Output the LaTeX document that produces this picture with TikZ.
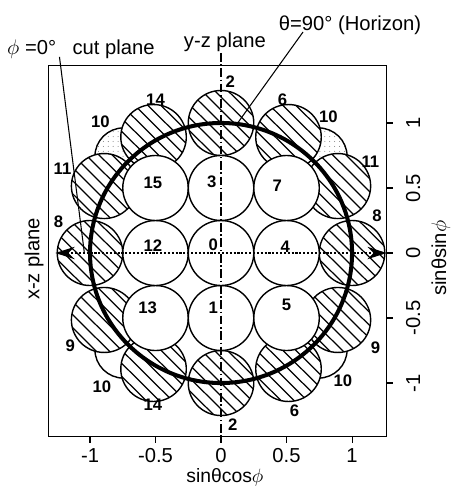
\documentclass[tikz,border=0pt]{standalone}
\usepackage{fontspec}
\setmainfont{Liberation Sans}
\usetikzlibrary{arrows.meta,patterns.meta}

\tikzset{
  ring/.style={line width=.8pt},
  hatch/.style={line width=.7pt},
  num/.style={font=\fontsize{9.5}{10}\selectfont\bfseries, inner sep=0pt},
  lab/.style={font=\fontsize{11.5}{13}\selectfont, inner sep=0pt, anchor=base},
}

\begin{document}
\begin{tikzpicture}[x=2.62cm, y=2.6cm, >={Stealth[length=11pt,width=7pt]}]
\useasboundingbox (-1.687,-1.792) rectangle (1.748,1.946);
% hidden cones (10)
\foreach \a in {45,135}
  \draw[ring, pattern={Dots[distance=2.8pt,radius=.3pt]}, pattern color=gray] (\a:1.05) circle (.22);
\foreach \a in {-45,-135}
  \draw[ring] (\a:1.05) circle (.22);
% outer ring, hatched
\foreach \a/\r in {90/1,60/1.03,30/1.03,0/1,-30/1.03,-60/1.03,-90/1,-120/1.03,-150/1.03,180/1,150/1.03,120/1.03}{
  \begin{scope}[shift={(\a:\r)}]
    \fill[white] (0,0) circle (.25);
    \begin{scope}
      \clip (0,0) circle (.25);
      \foreach \k in {-4,...,4} \draw[hatch] (\k*.1-.4,.4) -- (\k*.1+.4,-.4);
    \end{scope}
    \draw[ring] (0,0) circle (.25);
  \end{scope}}
% inner 3x3
\foreach \x in {-.5,0,.5}
  \foreach \y in {-.5,0,.5}
    \filldraw[ring, fill=white] (\x,\y) circle (.25);
% horizon
\draw[line width=2.3pt] (0,0) circle (1);
% cut planes
\coordinate (xzl) at (-1.265,0);
\coordinate (xzr) at (1.265,0);
\draw[<->, densely dotted, line width=1.2pt] (xzl) -- (xzr);
\coordinate (yzt) at (0,1.54);
\coordinate (yzb) at (0,-1.413);
\draw[line width=.6pt, dash pattern=on 5pt off 1.5pt on .8pt off 1.5pt] (yzt) -- (yzb);
% frame and axes
\draw[line width=.6pt] (-1.32,-1.413) rectangle (1.265,1.44);
\foreach \t in {-1,-0.5,0,0.5,1}{
  \draw[line width=.6pt] (\t,-1.413) -- ++(0,-.045);
  \node[lab] (xt\t) at (\t,-1.61) {\t};
  \draw[line width=.6pt] (1.265,\t) -- ++(.045,0);
  \node[lab, rotate=90] (yt\t) at (1.52,\t) {\t};
}
\node[lab, font=\fontsize{11}{13}\selectfont] (xlab) at (.03,-1.762) {sinθcos$\phi$};
\node[lab, rotate=90] (ylab) at (1.718,-.04) {sinθsin$\phi$};
\node[lab, rotate=90] (xzlab) at (-1.386,-.046) {x-z plane};
% circle numbers
\foreach \t/\x/\y [count=\i] in {15/-.52/.54, 3/-.07/.55, 7/.43/.52, 12/-.52/.06, 0/-.06/.06, 4/.49/.05,
    13/-.56/-.42, 1/-.06/-.42, 5/.5/-.4, 2/.07/1.32, 14/-.5/1.18, 6/.47/1.18, 10/-.92/1.01, 10/.82/1.05,
    11/-1.21/.65, 11/1.14/.7, 8/-1.24/.24, 8/1.19/.29, 9/-1.15/-.71, 9/1.18/-.73, 10/-.91/-1.03,
    10/.93/-.98, 14/-.52/-1.17, 6/.56/-1.21, 2/.09/-1.32}
  \node[num] (c\i) at (\x,\y) {\t};
% labels with leaders
\node[lab] (phi) at (-1.445,1.523) {$\phi$ =0°};
\node[lab] (cut) at (-.82,1.523) {cut plane};
\node[lab] (yz) at (.03,1.577) {y-z plane};
\node[lab] (hz) at (.985,1.715) {θ=90° (Horizon)};
\coordinate (phitop) at (-1.233,1.508);
\coordinate (phiend) at (-1.043,0);
\draw[line width=.6pt] (phitop) -- (phiend);
\coordinate (hztop) at (.626,1.70);
\coordinate (hzend) at (83:1);
\draw[line width=.6pt] (hztop) -- (hzend);
\end{tikzpicture}
\end{document}
